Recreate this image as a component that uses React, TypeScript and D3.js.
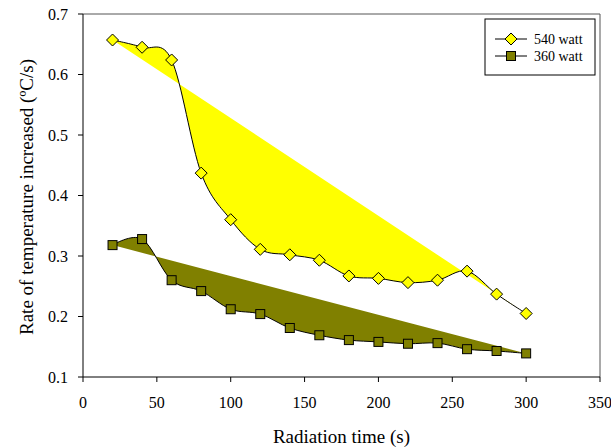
import React from "react";
import * as d3 from "d3";

const xValues = [20, 40, 60, 80, 100, 120, 140, 160, 180, 200, 220, 240, 260, 280, 300];
const series540 = [0.657, 0.645, 0.624, 0.437, 0.36, 0.311, 0.302, 0.293, 0.267, 0.263, 0.256, 0.26, 0.275, 0.237, 0.205];
const series360 = [0.318, 0.328, 0.26, 0.242, 0.212, 0.204, 0.181, 0.169, 0.161, 0.158, 0.155, 0.156, 0.146, 0.143, 0.139];
const xTicks = [0, 50, 100, 150, 200, 250, 300, 350];
const yTicks = [0.1, 0.2, 0.3, 0.4, 0.5, 0.6, 0.7];
const seriesNames = ["540 watt", "360 watt"];

const W = 611;
const H = 447;
const L = 83, R = 600, T = 14, B = 377;

const FONT = '"Liberation Serif"';

export default function App() {
  const x = d3.scaleLinear().domain([0, 350]).range([L, R]);
  const y = d3.scaleLinear().domain([0.1, 0.7]).range([B, T]);
  const line = d3
    .line<[number, number]>()
    .x((d) => x(d[0]))
    .y((d) => y(d[1]))
    .curve(d3.curveCatmullRom.alpha(0));
  const pts540: [number, number][] = xValues.map((v, i) => [v, series540[i]]);
  const pts360: [number, number][] = xValues.map((v, i) => [v, series360[i]]);
  const p540 = line(pts540) || "";
  const p360 = line(pts360) || "";
  const ts = (size: number): React.CSSProperties => ({ fontFamily: FONT, fontSize: size + "px" });
  const diamond = (cx: number, cy: number, r: number) =>
    `M${cx},${cy - r}L${cx + r},${cy}L${cx},${cy + r}L${cx - r},${cy}Z`;

  return (
    <svg width={W} height={H} style={{ position: "absolute", left: 0, top: 0 }}>
      <rect x={0} y={0} width={W} height={H} fill="#fff" />
      <path d={p540 + "Z"} fill="#FFFF00" stroke="none" />
      <path d={p360 + "Z"} fill="#808000" stroke="none" />
      <path d={p540} fill="none" stroke="#000" strokeWidth={1} />
      <path d={p360} fill="none" stroke="#000" strokeWidth={1} />
      {pts540.map((d, i) => (
        <path key={"d" + i} d={diamond(x(d[0]), y(d[1]), 6)} fill="#FFFF00" stroke="#000" strokeWidth={1} />
      ))}
      {pts360.map((d, i) => (
        <rect key={"s" + i} x={x(d[0]) - 4.5} y={y(d[1]) - 4.5} width={9} height={9} fill="#808000" stroke="#000" strokeWidth={1} />
      ))}
      <line x1={L} x2={R} y1={T} y2={T} stroke="#555" />
      <line x1={R} x2={R} y1={T} y2={B} stroke="#555" />
      <line x1={L} x2={L} y1={T} y2={B} stroke="#000" />
      <line x1={L} x2={R} y1={B} y2={B} stroke="#000" />
      {yTicks.map((t) => (
        <g key={"y" + t}>
          <line x1={L - 5} x2={L} y1={y(t)} y2={y(t)} stroke="#000" />
          <text x={L - 15} y={y(t) + 5.5} textAnchor="end" style={ts(16)}>
            {t.toFixed(1)}
          </text>
        </g>
      ))}
      {xTicks.map((t) => (
        <g key={"x" + t}>
          <line x1={x(t)} x2={x(t)} y1={B} y2={B + 5} stroke="#000" />
          <text x={x(t)} y={408} textAnchor="middle" style={ts(16)}>
            {t}
          </text>
        </g>
      ))}
      <text x={(L + R) / 2} y={443} textAnchor="middle" style={ts(19)}>
        Radiation time (s)
      </text>
      <text transform={`translate(33,197) rotate(-90)`} textAnchor="middle" style={ts(19)}>
        Rate of temperature increased (ºC/s)
      </text>
      <rect x={485} y={19} width={110} height={56} fill="#fff" stroke="#000" />
      <line x1={495} x2={527} y1={39} y2={39} stroke="#000" />
      <path d={diamond(511, 39, 6)} fill="#FFFF00" stroke="#000" />
      <text x={534} y={44} style={ts(14)}>{seriesNames[0]}</text>
      <line x1={495} x2={527} y1={56} y2={56} stroke="#000" />
      <rect x={506.5} y={51.5} width={9} height={9} fill="#808000" stroke="#000" />
      <text x={534} y={61} style={ts(14)}>{seriesNames[1]}</text>
    </svg>
  );
}
